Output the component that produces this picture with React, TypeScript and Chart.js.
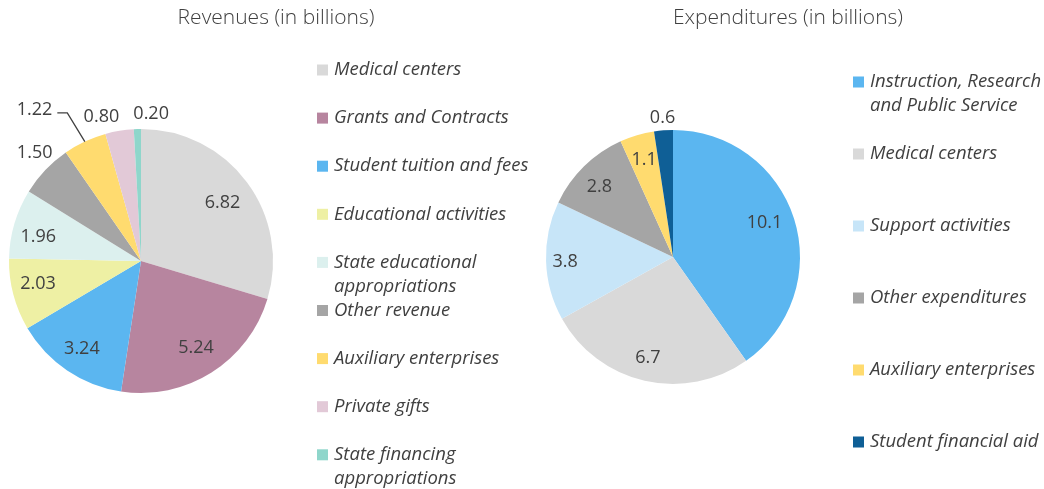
import React, { useEffect, useRef } from "react";
import { Chart, registerables } from "chart.js";

Chart.register(...registerables);

// ---------- Data ----------
const revenueTitle = "Revenues (in billions)";
const revenueCategories = [
  "Medical centers",
  "Grants and Contracts",
  "Student tuition and fees",
  "Educational activities",
  "State educational appropriations",
  "Other revenue",
  "Auxiliary enterprises",
  "Private gifts",
  "State financing appropriations",
];
const revenueValues = [6.82, 5.24, 3.24, 2.03, 1.96, 1.5, 1.22, 0.8, 0.2];
const revenueColors = [
  "#d9d9d9",
  "#b7859f",
  "#5bb6f0",
  "#eef0a4",
  "#dcf0ee",
  "#a5a5a5",
  "#ffdb6f",
  "#e2c9d7",
  "#8fd6cb",
];

const expenditureTitle = "Expenditures (in billions)";
const expenditureCategories = [
  "Instruction, Research and Public Service",
  "Medical centers",
  "Support activities",
  "Other expenditures",
  "Auxiliary enterprises",
  "Student financial aid",
];
const expenditureValues = [10.1, 6.7, 3.8, 2.8, 1.1, 0.6];
const expenditureColors = [
  "#5bb6f0",
  "#d9d9d9",
  "#c7e5f8",
  "#a5a5a5",
  "#ffdb6f",
  "#0f5f96",
];

// ---------- Label placement (style, not data) ----------
type Placement = { r: number; a?: number; leader?: boolean };
const revenuePlacement: Placement[] = [
  { r: 0.76, a: 1 },
  { r: 0.78 },
  { r: 0.8 },
  { r: 0.8, a: 2 },
  { r: 0.8, a: -3 },
  { r: 1.15, a: 2 },
  { r: 1.4, a: -10, leader: true },
  { r: 1.13, a: -6 },
  { r: 1.12, a: 5.5 },
];
const expenditurePlacement: Placement[] = [
  { r: 0.77, a: -3 },
  { r: 0.82, a: 1 },
  { r: 0.85, a: -1 },
  { r: 0.8, a: -2 },
  { r: 0.8 },
  { r: 1.1 },
];

const FONT = '"Open Sans", "DejaVu Sans", sans-serif';
const TEXT = "#404040";

type DecorCfg = {
  title: string;
  titleX: number;
  titleY: number;
  decimals: number;
  placement: Placement[];
  legendX: number;
  legendY0: number;
  legendStep: number;
  legendMaxWidth: number;
};

function wrap(ctx: CanvasRenderingContext2D, text: string, maxW: number): string[] {
  const words = text.split(" ");
  const lines: string[] = [];
  let cur = "";
  for (const w of words) {
    const test = cur ? cur + " " + w : w;
    if (ctx.measureText(test).width > maxW && cur) {
      lines.push(cur);
      cur = w;
    } else cur = test;
  }
  if (cur) lines.push(cur);
  return lines;
}

function makeDecor(cfg: DecorCfg) {
  return {
    id: "pieDecor",
    afterDraw(chart: any) {
      const ctx: CanvasRenderingContext2D = chart.ctx;
      const meta = chart.getDatasetMeta(0);
      const ds = chart.data.datasets[0];
      ctx.save();
      // title
      ctx.fillStyle = TEXT;
      ctx.font = `300 21px ${FONT}`;
      ctx.textAlign = "center";
      ctx.textBaseline = "middle";
      ctx.fillText(cfg.title, cfg.titleX, cfg.titleY);

      // data labels
      ctx.font = `18px ${FONT}`;
      meta.data.forEach((arc: any, i: number) => {
        const p = cfg.placement[i] || { r: 0.78 };
        const { x, y, startAngle, endAngle, outerRadius } = arc.getProps(
          ["x", "y", "startAngle", "endAngle", "outerRadius"],
          true
        );
        const mid = (startAngle + endAngle) / 2;
        const ang = mid + ((p.a || 0) * Math.PI) / 180;
        const lx = x + Math.cos(ang) * outerRadius * p.r;
        const ly = y + Math.sin(ang) * outerRadius * p.r;
        const txt = Number(ds.data[i]).toFixed(cfg.decimals);
        ctx.fillStyle = TEXT;
        ctx.textAlign = "center";
        ctx.textBaseline = "middle";
        ctx.fillText(txt, lx, ly);
        if (p.leader) {
          const w = ctx.measureText(txt).width;
          const sx = lx + w / 2 + 5;
          const ex = x + Math.cos(mid) * outerRadius;
          const ey = y + Math.sin(mid) * outerRadius;
          ctx.strokeStyle = "#404040";
          ctx.lineWidth = 1.3;
          ctx.beginPath();
          ctx.moveTo(sx, ly + 3);
          ctx.lineTo(sx + 10, ly + 3);
          ctx.lineTo(ex, ey);
          ctx.stroke();
        }
      });

      // legend
      ctx.font = `italic 18.5px ${FONT}`;
      ctx.textAlign = "left";
      ctx.textBaseline = "middle";
      const labels: string[] = chart.data.labels;
      labels.forEach((lab, i) => {
        const yy = cfg.legendY0 + cfg.legendStep * i;
        ctx.fillStyle = ds.backgroundColor[i];
        ctx.fillRect(cfg.legendX, yy - 5.5, 11, 11);
        ctx.fillStyle = TEXT;
        const lines = wrap(ctx, lab, cfg.legendMaxWidth);
        lines.forEach((ln, k) => ctx.fillText(ln, cfg.legendX + 17, yy + k * 24));
      });
      ctx.restore();
    },
  };
}

function PieCanvas(props: {
  left: number;
  width: number;
  labels: string[];
  values: number[];
  colors: string[];
  padding: { left: number; right: number; top: number; bottom: number };
  decor: DecorCfg;
}) {
  const ref = useRef<HTMLCanvasElement>(null);
  useEffect(() => {
    if (!ref.current) return;
    const chart = new Chart(ref.current, {
      type: "pie",
      data: {
        labels: props.labels,
        datasets: [
          {
            data: props.values,
            backgroundColor: props.colors,
            borderWidth: 0,
          },
        ],
      },
      options: {
        responsive: false,
        animation: false,
        layout: { padding: props.padding },
        plugins: {
          legend: { display: false },
          title: { display: false },
          tooltip: { enabled: false },
        },
      },
      plugins: [makeDecor(props.decor)],
    } as any);
    return () => chart.destroy();
  }, []);
  return (
    <canvas
      ref={ref}
      width={props.width}
      height={489}
      style={{ position: "absolute", left: props.left, top: 0, display: "block" }}
    />
  );
}

export default function App() {
  return (
    <div
      style={{
        position: "absolute",
        left: 0,
        top: 0,
        width: 1044,
        height: 489,
        background: "#ffffff",
        overflow: "hidden",
      }}
    >
      <PieCanvas
        left={0}
        width={545}
        labels={revenueCategories}
        values={revenueValues}
        colors={revenueColors}
        padding={{ left: 9, top: 129, right: 272, bottom: 96 }}
        decor={{
          title: revenueTitle,
          titleX: 276,
          titleY: 18,
          decimals: 2,
          placement: revenuePlacement,
          legendX: 317,
          legendY0: 70,
          legendStep: 48.1,
          legendMaxWidth: 205,
        }}
      />
      <PieCanvas
        left={545}
        width={499}
        labels={expenditureCategories}
        values={expenditureValues}
        colors={expenditureColors}
        padding={{ left: 1, top: 130, right: 244, bottom: 105 }}
        decor={{
          title: expenditureTitle,
          titleX: 243,
          titleY: 18,
          decimals: 1,
          placement: expenditurePlacement,
          legendX: 308,
          legendY0: 82,
          legendStep: 72,
          legendMaxWidth: 178,
        }}
      />
    </div>
  );
}
